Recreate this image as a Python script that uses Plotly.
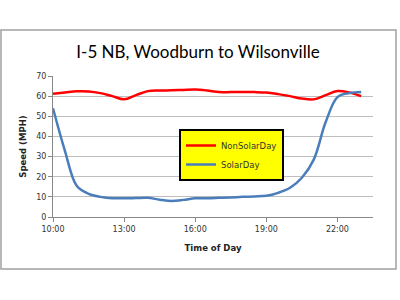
import plotly.graph_objects as go

hours = [10, 10.5, 11, 11.5, 12, 12.5, 13, 13.5, 14, 14.5, 15, 15.5, 16, 16.5, 17, 17.5,
         18, 18.5, 19, 19.5, 20, 20.5, 21, 21.5, 22, 22.5, 23]
non_solar = [61.2, 61.8, 62.4, 62.3, 61.5, 60.0, 58.4, 60.5, 62.5, 62.8, 62.9, 63.1, 63.3, 62.8,
             62.0, 62.0, 62.0, 62.0, 61.8, 61.0, 60.0, 58.8, 58.4, 60.5, 62.5, 61.8, 60.0]
solar = [54.0, 33.0, 15.5, 11.5, 10.0, 9.3, 9.3, 9.4, 9.5, 8.6, 8.0, 8.5, 9.3, 9.3,
         9.5, 9.7, 10.0, 10.2, 10.5, 12.0, 14.5, 19.5, 28.5, 47.0, 59.5, 61.5, 62.0]
tick_vals = [10, 13, 16, 19, 22]
tick_text = ["10:00", "13:00", "16:00", "19:00", "22:00"]

fig = go.Figure()
fig.add_trace(go.Scatter(x=hours, y=non_solar, name="NonSolarDay", mode="lines",
                         line=dict(color="#FF0000", width=2.5, shape="spline")))
fig.add_trace(go.Scatter(x=hours, y=solar, name="SolarDay", mode="lines",
                         line=dict(color="#4A7EBB", width=2.5, shape="spline")))

W, H = 400, 300
L, R, T, B = 53, 27, 76, 83
pw, ph = W - L - R, H - T - B

def px(x):
    return (x - L) / pw

def py(y):
    return (H - B - y) / ph

fig.update_layout(
    width=W, height=H,
    margin=dict(l=L, r=R, t=T, b=B),
    paper_bgcolor="white", plot_bgcolor="white",
    font=dict(family="DejaVu Sans", size=8, color="#333333"),
    title=dict(text="I-5 NB, Woodburn to Wilsonville", x=198 / W, xanchor="center",
               y=1 - 52 / H, yanchor="middle", yref="container",
               font=dict(family="Lato", size=17, color="black")),
    showlegend=True,
    legend=dict(x=px(179), y=py(129), xanchor="left", yanchor="top",
                bgcolor="#FFFF00", bordercolor="black", borderwidth=2,
                font=dict(family="DejaVu Sans", size=8.5, color="#333333"),
                itemwidth=30, tracegroupgap=2),
    xaxis=dict(range=[10, 23.5], tickvals=tick_vals, ticktext=tick_text,
               showgrid=False, zeroline=False, showline=True, linecolor="#888888",
               linewidth=1, ticks="outside", ticklen=4, tickcolor="#888888",
               title=dict(text="<b>Time of Day</b>", font=dict(size=8.5, color="#222222"),
                          standoff=12)),
    yaxis=dict(range=[0, 70], dtick=10, showgrid=True, gridcolor="#BEBEBE", gridwidth=1.3,
               zeroline=False, showline=True, linecolor="#888888", linewidth=1,
               ticks="outside", ticklen=4, tickcolor="#888888",
               title=dict(text="<b>Speed (MPH)</b>", font=dict(size=8.5, color="#222222"),
                          standoff=8)),
    shapes=[dict(type="rect", xref="paper", yref="paper",
                 x0=px(1), x1=px(396), y0=py(269), y1=py(30),
                 line=dict(color="#A0A0A0", width=1.5), fillcolor="rgba(0,0,0,0)", layer="below")],
)

fig.write_html("out.html")
